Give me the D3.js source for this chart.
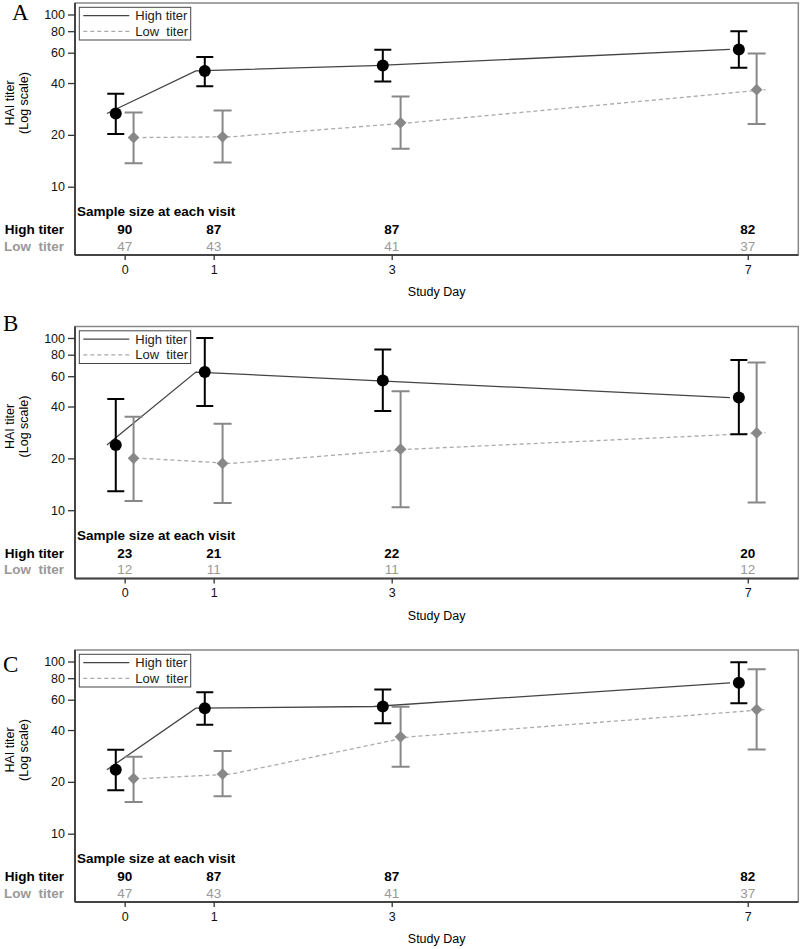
<!DOCTYPE html>
<html><head><meta charset="utf-8">
<script src="https://cdn.jsdelivr.net/npm/d3@7"></script>
<style>body{margin:0;background:#fff}svg{display:block}text{font-family:"Liberation Sans",Arial,sans-serif}</style>
</head><body><svg id="c" width="800" height="949"></svg>
<script>
// ---- data ----
const days = [0, 1, 3, 7];
const panelLabels = ["A", "B", "C"];
const yTicks = [10, 20, 40, 60, 80, 100];
const seriesNames = ["High titer", "Low  titer"];

const highMeanA = [26.6, 47.0, 50.5, 62.7];
const highLowerA = [20.2, 38.3, 40.8, 49.1];
const highUpperA = [34.7, 56.6, 62.5, 80.0];
const lowMeanA = [19.3, 19.5, 23.5, 36.6];
const lowLowerA = [13.7, 13.8, 16.6, 23.1];
const lowUpperA = [27.0, 27.7, 33.4, 59.4];
const highNA = [90, 87, 87, 82];
const lowNA = [47, 43, 41, 37];

const highMeanB = [23.9, 63.4, 56.6, 45.1];
const highLowerB = [12.9, 40.3, 37.7, 27.6];
const highUpperB = [44.2, 100, 85.8, 74.5];
const lowMeanB = [20.0, 18.7, 22.6, 28.1];
const lowLowerB = [11.3, 11.0, 10.4, 11.1];
const lowUpperB = [34.9, 31.8, 49.1, 72.1];
const highNB = [23, 21, 22, 20];
const lowNB = [12, 11, 11, 12];

const highMeanC = [23.5, 53.6, 54.8, 75.2];
const highLowerC = [17.9, 42.9, 43.8, 57.3];
const highUpperC = [30.7, 66.3, 68.8, 99.1];
const lowMeanC = [20.9, 22.2, 36.5, 52.6];
const lowLowerC = [15.3, 16.5, 24.5, 30.8];
const lowUpperC = [28.0, 30.2, 54.6, 90.2];
const highNC = [90, 87, 87, 82];
const lowNC = [47, 43, 41, 37];

const panelData = [
  {high: [highMeanA, highLowerA, highUpperA], low: [lowMeanA, lowLowerA, lowUpperA], nH: highNA, nL: lowNA},
  {high: [highMeanB, highLowerB, highUpperB], low: [lowMeanB, lowLowerB, lowUpperB], nH: highNB, nL: lowNB},
  {high: [highMeanC, highLowerC, highUpperC], low: [lowMeanC, lowLowerC, lowUpperC], nH: highNC, nL: lowNC}
];

// ---- layout ----
const panelTops = [3, 326.5, 650];
const letterPos = [[12, 20], [3, 331], [3, 672]];
const L = 75, R = 798.3, H = 252;
const HIGH = "#000", HIGHLINE = "#444", LOW = "#888", LOWLINE = "#aaa";

const svg = d3.select("#c");
const x = d3.scaleLinear().domain([-0.558, 7.568]).range([L, R]);

panelData.forEach((pd, i) => {
  const top = panelTops[i];
  const bottom = top + H;
  const g = svg.append("g");
  const y = d3.scaleLog().domain([10, 100]).range([top + 183.7, top + 11.5]);

  // panel letter
  g.append("text").attr("x", letterPos[i][0]).attr("y", letterPos[i][1])
    .style("font-family", "'Liberation Serif','Times New Roman',serif")
    .attr("font-size", 23).text(panelLabels[i]);

  // frame
  g.append("rect").attr("x", L).attr("y", top).attr("width", R - L).attr("height", H)
    .attr("fill", "none").attr("stroke", "#888").attr("stroke-width", 1.5);

  // y axis
  const ya = d3.axisLeft(y).tickValues(yTicks).tickFormat(d3.format("d")).tickSize(7).tickPadding(3);
  const yg = g.append("g").attr("transform", `translate(${L},0)`).call(ya);
  yg.select(".domain").attr("d", `M0,${top}V${bottom}`).attr("stroke", "#444").attr("stroke-width", 2);
  yg.selectAll(".tick line").attr("stroke", "#333").attr("stroke-width", 1.3);
  yg.selectAll(".tick text").attr("font-size", 12.5).attr("fill", "#111").style("font-family", "'Liberation Sans',Arial,sans-serif");

  // x axis
  const xa = d3.axisBottom(x).tickValues(days).tickFormat(d3.format("d")).tickSize(5).tickPadding(5);
  const xg = g.append("g").attr("transform", `translate(0,${bottom})`).call(xa);
  xg.select(".domain").attr("d", `M${L},0H${R}`).attr("stroke", "#444").attr("stroke-width", 2);
  xg.selectAll(".tick line").attr("stroke", "#333").attr("stroke-width", 1.3);
  xg.selectAll(".tick text").attr("font-size", 12.5).attr("fill", "#111").style("font-family", "'Liberation Sans',Arial,sans-serif");

  // axis titles
  g.append("text").attr("x", (L + R) / 2).attr("y", bottom + 41).attr("text-anchor", "middle")
    .attr("font-size", 12.5).text("Study Day");
  const yt = g.append("text").attr("transform", `translate(14,${top + 100}) rotate(-90)`)
    .attr("text-anchor", "middle").attr("font-size", 12.5);
  yt.append("tspan").attr("x", 0).attr("dy", 0).text("HAI titer");
  yt.append("tspan").attr("x", 0).attr("dy", 13.5).text("(Log scale)");

  // legend
  const lg = g.append("g").attr("transform", `translate(79.3,${top + 4.3})`);
  lg.append("rect").attr("width", 111.4).attr("height", 32.7).attr("fill", "#fff").attr("stroke", "#444").attr("stroke-width", 1);
  lg.append("line").attr("x1", 4).attr("x2", 50).attr("y1", 8.4).attr("y2", 8.4).attr("stroke", HIGHLINE).attr("stroke-width", 1.3);
  lg.append("line").attr("x1", 4).attr("x2", 50).attr("y1", 24).attr("y2", 24).attr("stroke", LOWLINE).attr("stroke-width", 1.3).attr("stroke-dasharray", "4,3");
  seriesNames.forEach((s, k) => {
    lg.append("text").attr("x", 56).attr("y", 8.4 + k * 15.6).attr("dy", "0.35em").attr("font-size", 13)
      .attr("fill", "#222").style("white-space", "pre").attr("xml:space", "preserve").text(s);
  });

  // series
  const series = [
    {v: pd.high, mOff: -0.1, lOff: -0.2, c: HIGH, lc: HIGHLINE, dash: null, shape: "circle"},
    {v: pd.low, mOff: 0.1, lOff: 0.2, c: LOW, lc: LOWLINE, dash: "4,3", shape: "diamond"}
  ];
  series.slice().reverse().forEach(s => {
    const pts = days.map((d, k) => [x(d + s.lOff), y(s.v[0][k])]);
    g.append("path").attr("d", d3.line()(pts)).attr("fill", "none").attr("stroke", s.lc)
      .attr("stroke-width", 1.3).attr("stroke-dasharray", s.dash);
  });
  series.slice().reverse().forEach(s => {
    days.forEach((d, k) => {
      const cx = x(d + s.mOff);
      const yl = y(s.v[1][k]), yu = y(s.v[2][k]), ym = y(s.v[0][k]);
      const w = s.shape === "circle" ? 8.5 : 9;
      g.append("path").attr("d", `M${cx},${yu}V${yl}M${cx - w},${yu}H${cx + w}M${cx - w},${yl}H${cx + w}`)
        .attr("stroke", s.c).attr("stroke-width", 2).attr("fill", "none");
      if (s.shape === "circle") {
        g.append("circle").attr("cx", cx).attr("cy", ym).attr("r", 6).attr("fill", s.c);
      } else {
        g.append("path").attr("d", d3.symbol().type(d3.symbolDiamond2).size(88)())
          .attr("transform", `translate(${cx},${ym})`).attr("fill", s.c);
      }
    });
  });

  // sample size table
  g.append("text").attr("x", 77).attr("y", bottom - 43.5).attr("dy", "0.35em")
    .attr("font-size", 13.5).attr("font-weight", "bold").attr("fill", "#000").text("Sample size at each visit");
  const rows = [{label: "High titer", n: pd.nH, c: "#000", w: "bold", dy: -25.3},
                {label: "Low  titer", n: pd.nL, c: "#999", w: "normal", dy: -8.8}];
  rows.forEach(r => {
    g.append("text").attr("x", 64).attr("y", bottom + r.dy).attr("dy", "0.35em").attr("text-anchor", "end")
      .attr("font-size", 13.5).attr("font-weight", "bold").attr("fill", r.c).attr("xml:space", "preserve")
      .style("white-space", "pre").text(r.label);
    days.forEach((d, k) => {
      g.append("text").attr("x", x(d)).attr("y", bottom + r.dy).attr("dy", "0.35em").attr("text-anchor", "middle")
        .attr("font-size", 13.5).attr("font-weight", r.w).attr("fill", r.c).text(r.n[k]);
    });
  });
});
</script></body></html>
